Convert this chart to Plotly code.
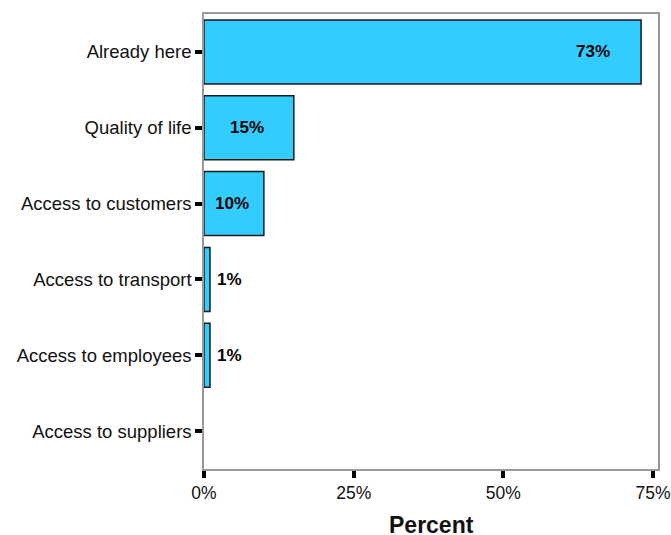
import plotly.graph_objects as go

categories = ["Already here", "Quality of life", "Access to customers",
              "Access to transport", "Access to employees", "Access to suppliers"]
percent = [73, 15, 10, 1, 1, 0]
xtick_vals = [0, 25, 50, 75]
xtick_text = ["0%", "25%", "50%", "75%"]
x_title = "Percent"

fig = go.Figure()
fig.add_trace(go.Bar(
    y=categories, x=percent, orientation="h",
    marker=dict(color="#33CCFF",
                line=dict(color="#1a1a1a", width=[1.5 if v > 0 else 0 for v in percent])),
    width=0.845, hoverinfo="skip",
))

annotations = []
for c, v in zip(categories, percent):
    if v <= 0:
        continue
    if v > 50:
        ax, anchor, shift = v - 8, "center", 0
    elif v > 5:
        ax, anchor, shift = v / 2, "center", -2
    else:
        ax, anchor, shift = v, "left", 5
    annotations.append(dict(x=ax, y=c, text=f"<b>{v}%</b>", showarrow=False,
                            xanchor=anchor, xshift=shift,
                            font=dict(family="Liberation Sans, Arial", size=17, color="black")))

annotations.append(dict(x=0.5, y=0, xref="paper", yref="paper", text=f"<b>{x_title}</b>",
                        showarrow=False, xanchor="center", yanchor="middle", yshift=-56,
                        font=dict(family="Liberation Sans, Arial", size=23, color="#111")))

fig.update_layout(
    width=671, height=535,
    margin=dict(l=204, r=13, t=14, b=66, autoexpand=False),
    paper_bgcolor="white", plot_bgcolor="white",
    showlegend=False,
    font=dict(family="Liberation Sans, Arial", color="#111"),
    annotations=annotations,
    xaxis=dict(range=[0, 75.83], tickvals=xtick_vals, ticktext=xtick_text,
               ticks="outside", ticklen=7, tickwidth=3.5, tickcolor="black",
               showline=True, linecolor="#999999", linewidth=1.5, mirror=True,
               showgrid=False, zeroline=False, automargin=False,
               tickfont=dict(size=17.5, color="#111")),
    yaxis=dict(categoryorder="array", categoryarray=categories, range=[5.5, -0.5],
               ticks="outside", ticklen=7, tickwidth=3.5, tickcolor="black",
               showline=True, linecolor="#999999", linewidth=1.5, mirror=True,
               showgrid=False, zeroline=False, automargin=False,
               tickfont=dict(size=18.5, color="#111")),
)

fig.write_html("out.html")
